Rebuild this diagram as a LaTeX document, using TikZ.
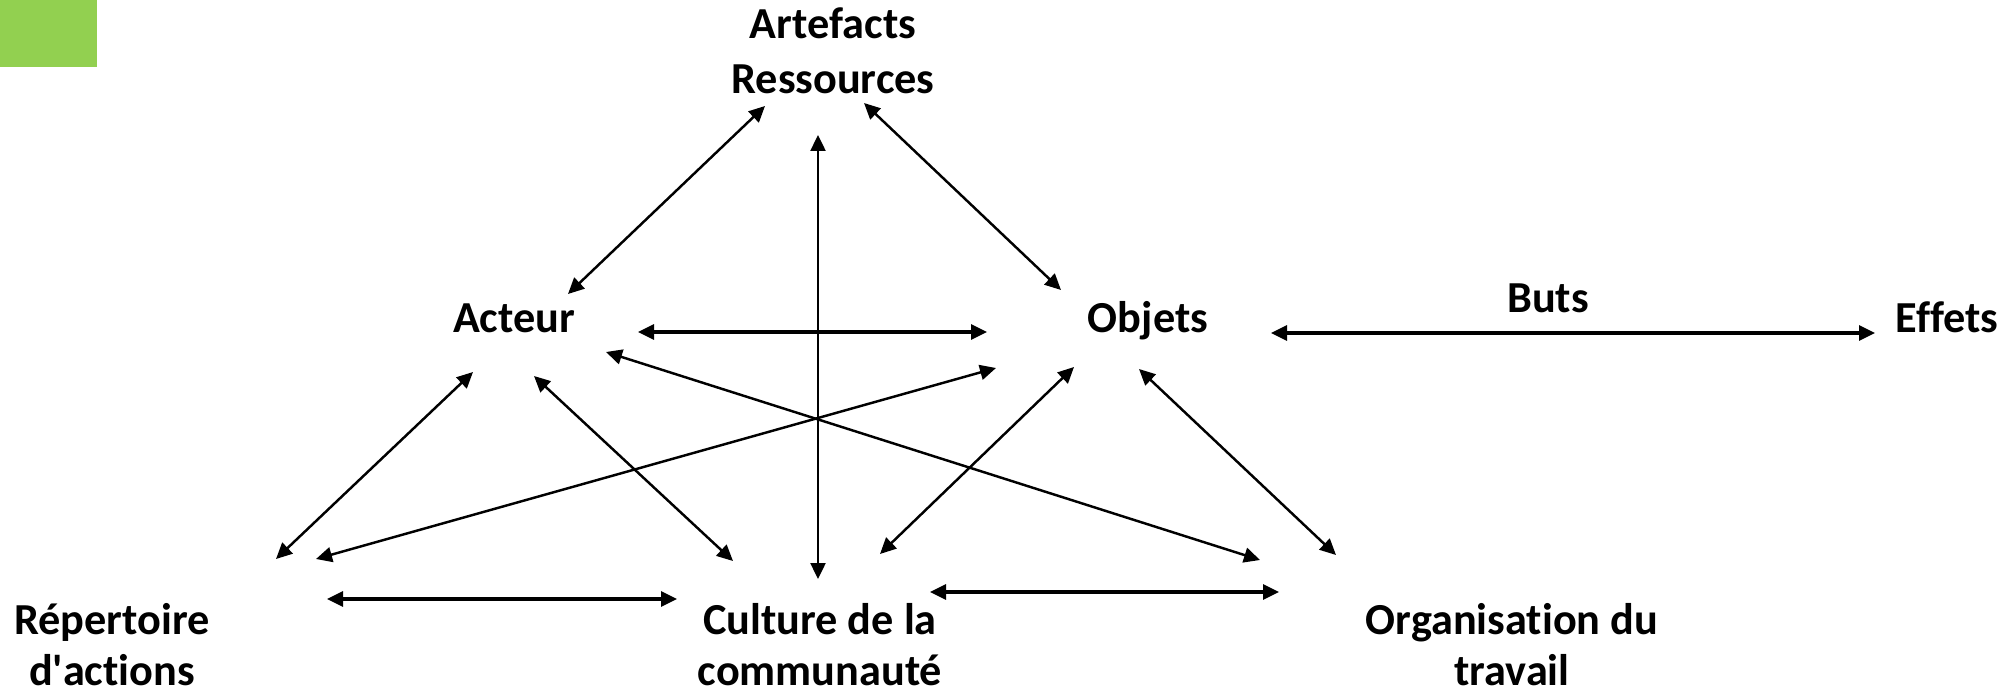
\documentclass[tikz,border=0pt]{standalone}
\usepackage{fontspec}
\setmainfont[Ligatures=NoCommon]{Carlito}
\usetikzlibrary{arrows.meta}
\definecolor{tabgreen}{RGB}{146,208,80}
\tikzset{
  term/.style={inner sep=0pt, align=center, anchor=base,
    font=\bfseries\fontsize{25.2}{28.5}\selectfont},
  link/.style={<->, line width=1.4pt},
  hlink/.style={link, line width=1.8pt}
}
\begin{document}
\begin{tikzpicture}[>={Triangle[length=0.32cm,width=0.3cm]}]
\useasboundingbox (0,0) rectangle (40.26,13.96);
\fill[tabgreen] (0,12.62) rectangle (1.94,13.96);

% terms (base = last line)
\node[term, font=\bfseries\fontsize{25.2}{31.3}\selectfont] (art) at (16.66,12.08) {Artefacts\\Ressources};
\node[term] (act) at (10.28,7.32) {Acteur};
\node[term] (obj) at (22.96,7.32) {Objets};
\node[term] (but) at (30.96,7.72) {Buts};
\node[term] (eff) at (38.94,7.32) {Effets};
\node[term] (rep) at (2.24,0.26) {Répertoire\\d\textquotesingle actions};
\node[term] (cul) at (16.40,0.26) {Culture de la\\communauté};
\node[term] (org) at (30.24,0.26) {Organisation du\\travail};

% arrow ends
\coordinate (art-act) at (15.30,11.84);
\coordinate (art-cul) at (16.36,11.26);
\coordinate (art-obj) at (17.28,11.90);
\coordinate (act-art) at (11.36,8.08);
\coordinate (act-obj) at (12.76,7.32);
\coordinate (act-rep) at (9.46,6.52);
\coordinate (act-cul) at (10.68,6.44);
\coordinate (act-org) at (12.12,6.92);
\coordinate (obj-art) at (21.22,8.16);
\coordinate (obj-act) at (19.74,7.32);
\coordinate (obj-eff) at (25.42,7.30);
\coordinate (obj-rep) at (19.92,6.60);
\coordinate (obj-cul) at (21.48,6.62);
\coordinate (obj-org) at (22.78,6.58);
\coordinate (eff-obj) at (37.50,7.30);
\coordinate (rep-act) at (5.52,2.78);
\coordinate (rep-obj) at (6.32,2.78);
\coordinate (rep-cul) at (6.54,1.98);
\coordinate (cul-art) at (16.36,2.38);
\coordinate (cul-act) at (14.66,2.74);
\coordinate (cul-obj) at (17.60,2.88);
\coordinate (cul-rep) at (13.54,1.98);
\coordinate (cul-org) at (18.60,2.12);
\coordinate (org-act) at (25.20,2.76);
\coordinate (org-obj) at (26.72,2.86);
\coordinate (org-cul) at (25.58,2.12);

% triangle
\draw[link] (act-art) -- (art-act);
\draw[link] (obj-art) -- (art-obj);
\draw[link] (cul-art) -- (art-cul);
\draw[hlink] (act-obj) -- (obj-act);
\draw[hlink] (obj-eff) -- (eff-obj);
% lower part
\draw[link] (rep-act) -- (act-rep);
\draw[link] (rep-obj) -- (obj-rep);
\draw[link] (cul-act) -- (act-cul);
\draw[link] (org-act) -- (act-org);
\draw[link] (cul-obj) -- (obj-cul);
\draw[link] (org-obj) -- (obj-org);
\draw[hlink] (rep-cul) -- (cul-rep);
\draw[hlink] (cul-org) -- (org-cul);
\end{tikzpicture}
\end{document}
